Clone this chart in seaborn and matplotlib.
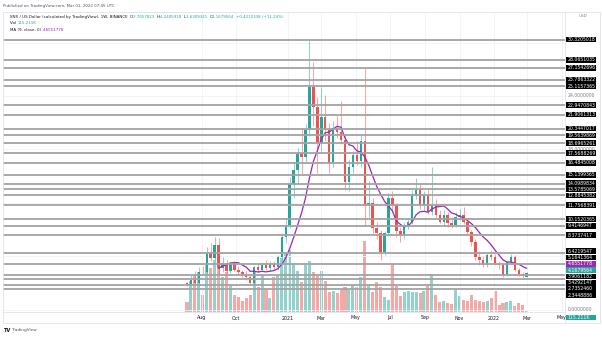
import numpy as np
import pandas as pd
import matplotlib
matplotlib.use("Agg")
import matplotlib.pyplot as plt
import matplotlib.dates as mdates
from matplotlib.patches import Rectangle
import seaborn as sns

W, H = 602, 337

# ---- weekly SNX/USD candles (Binance), starting week of 2020-07-06 ----
first_week = "2020-07-06"
opens = [2.98, 2.88, 3.40, 3.05, 4.25, 4.20, 6.40, 5.80, 7.25, 4.70,
         5.20, 4.40, 5.20, 4.45, 4.20, 4.00, 3.70, 3.05, 4.75, 4.45,
         5.05, 4.65, 5.15, 4.80, 5.95, 8.15, 9.50, 14.10, 15.70, 17.45,
         17.15, 20.15, 25.05, 22.80, 18.70, 21.60, 20.20, 16.50, 20.40, 20.00,
         19.05, 14.30, 16.00, 17.40, 16.70, 18.90, 11.80, 12.00, 9.15, 8.60,
         6.50, 8.60, 12.50, 11.80, 8.80, 8.40, 9.50, 9.90, 12.90, 13.50,
         11.76, 12.88, 11.00, 11.80, 10.64, 9.90, 10.60, 9.70, 9.55, 10.45,
         10.60, 9.89, 8.77, 7.64, 5.96, 5.59, 5.03, 6.15, 5.96, 5.19,
         5.03, 3.91, 5.40, 5.96, 4.47, 4.02, 3.7057823]
highs = [3.10, 3.85, 4.40, 4.85, 4.95, 7.10, 7.45, 8.15, 8.10, 5.90,
         5.60, 5.40, 5.50, 4.90, 4.50, 4.30, 3.90, 4.95, 5.30, 5.40,
         5.60, 5.50, 5.50, 6.20, 8.60, 10.20, 14.90, 16.60, 18.20, 20.30,
         20.90, 30.32, 27.80, 23.90, 25.00, 24.10, 21.00, 21.20, 21.80, 23.40,
         19.60, 16.80, 17.80, 19.00, 19.60, 27.15, 14.40, 12.60, 9.90, 9.00,
         8.90, 13.10, 13.30, 12.00, 9.30, 9.80, 10.30, 13.40, 14.80, 14.20,
         13.30, 13.60, 16.06, 12.40, 11.20, 11.20, 11.00, 10.40, 11.00, 11.30,
         11.50, 10.30, 9.00, 7.90, 6.60, 6.00, 6.40, 6.70, 6.30, 5.50,
         5.20, 5.50, 6.30, 6.10, 4.70, 4.20, 4.2405918]
lows = [2.70, 2.75, 2.95, 2.95, 3.95, 4.10, 5.50, 5.60, 3.90, 4.20,
        4.10, 4.10, 4.30, 4.00, 3.70, 3.40, 2.85, 2.90, 4.20, 4.30,
        4.50, 4.40, 4.60, 4.50, 5.60, 7.50, 9.20, 12.50, 14.10, 15.20,
        16.60, 19.50, 20.60, 15.30, 17.80, 19.00, 15.30, 16.00, 19.30, 18.60,
        13.50, 13.30, 15.40, 16.30, 16.00, 9.40, 10.40, 8.60, 8.00, 5.60,
        6.10, 8.30, 11.00, 8.20, 7.60, 8.00, 9.10, 9.60, 12.40, 11.30,
        11.10, 10.70, 10.60, 10.30, 9.70, 9.40, 9.30, 9.20, 9.30, 10.10,
        9.60, 8.40, 7.20, 5.60, 5.00, 4.80, 4.80, 5.60, 5.00, 4.60,
        3.70, 3.80, 5.20, 4.30, 3.80, 3.60, 3.6309341]
closes = [2.88, 3.40, 3.05, 4.25, 4.20, 6.40, 5.80, 7.25, 4.70, 5.20,
          4.40, 5.20, 4.45, 4.20, 4.00, 3.70, 3.05, 4.75, 4.45, 5.05,
          4.65, 5.15, 4.80, 5.95, 8.15, 9.50, 14.10, 15.70, 17.45, 17.15,
          20.15, 25.05, 22.80, 18.70, 21.60, 20.20, 16.50, 20.40, 20.00, 19.05,
          14.30, 16.00, 17.40, 16.70, 18.90, 11.80, 12.00, 9.15, 8.60, 6.50,
          8.60, 12.50, 11.80, 8.80, 8.40, 9.50, 9.90, 12.90, 13.50, 11.76,
          12.88, 11.00, 11.80, 10.64, 9.90, 10.60, 9.70, 9.55, 10.45, 10.60,
          9.89, 8.77, 7.64, 5.96, 5.59, 5.03, 6.15, 5.96, 5.1917212, 5.03,
          3.91, 5.40, 5.96, 4.47, 4.02, 3.7469226, 4.1679564]
# weekly volume, thousands of SNX
volumes = [800, 2500, 3000, 3200, 1350, 3800, 3600, 4200, 4000, 2800,
           3200, 2200, 1350, 1200, 900, 1100, 1350, 3200, 2000, 3000,
           1850, 1100, 2800, 3000, 4400, 4800, 5000, 4000, 3350, 2400,
           3800, 4150, 3200, 3000, 3350, 2550, 1600, 1700, 1500, 1800,
           2000, 1800, 2200, 2000, 2800, 5750, 2200, 1600, 2400, 2000,
           1200, 1000, 3900, 2100, 1300, 1600, 1700, 1600, 1600, 1500,
           1700, 2200, 3100, 1400, 800, 900, 750, 650, 1800, 1300,
           1000, 900, 1400, 1000, 900, 800, 900, 1150, 1700, 600,
           750, 800, 900, 500, 700, 600, 115.211]

ma_len = 9

# horizontal levels drawn on the chart
levels = [30.3205018, 28.0651035, 27.1542696, 25.7863322, 25.1157365,
          22.9470843, 21.9061313, 20.3447017, 19.5639869, 18.6965261,
          17.5688269, 16.4845008, 15.1399365, 14.0989834, 13.5785069,
          12.8845382, 11.7568391, 10.1520365, 9.4146947, 8.3737417,
          6.4219547, 5.1641364, 3.9061182, 3.4292147, 2.7352460, 2.3448886]

price_ticks = [0, 6, 12, 18, 24, 30]
shown_ticks = [0, 18, 24]
time_ticks = ["2020-08-01", "2020-10-01", "2021-01-01", "2021-03-01", "2021-05-01",
              "2021-07-01", "2021-09-01", "2021-11-01", "2022-01-01", "2022-03-01",
              "2022-05-01"]
time_labels = ["Aug", "Oct", "2021", "Mar", "May", "Jul", "Sep", "Nov", "2022", "Mar", "May"]

UP, DOWN = "#26a69a", "#ef5350"
MA_COL = "#9c27b0"
TXT = "#131722"

df = pd.DataFrame({"date": pd.date_range(first_week, periods=len(closes), freq="7D"),
                   "open": opens, "high": highs, "low": lows, "close": closes,
                   "volume": volumes})
df["x"] = mdates.date2num(df["date"])
df["ma"] = df["close"].rolling(ma_len).mean()
df["up"] = df["close"] >= df["open"]

sns.set_theme(style="white")
plt.rcParams["font.family"] = ["DejaVu Sans"]

fig = plt.figure(figsize=(W / 100, H / 100), dpi=100)
fig.patch.set_facecolor("white")

# pane geometry in pixels
PL, PR, PT, PB = 3, 565, 12, 312
rect = [PL / W, 1 - PB / H, (PR - PL) / W, (PB - PT) / H]

x0 = df["x"].iloc[0]
px_per_week = 3.95
first_px = 187
xlim = (x0 + 7 * (PL - first_px) / px_per_week, x0 + 7 * (PR - first_px) / px_per_week)
px_per_unit = 8.91
zero_px = 309.8
ylim = ((zero_px - PB) / px_per_unit, (zero_px - PT) / px_per_unit)

# volume pane underneath
axv = fig.add_axes(rect)
axv.set_xlim(*xlim)
vmax = df["volume"].max()
vtop = vmax * (PB - PT) / 71
axv.set_ylim(0, vtop)
axv.bar(df["x"], df["volume"], width=7 * 0.78,
        color=[UP if u else DOWN for u in df["up"]], alpha=0.5, linewidth=0)
axv.axis("off")

ax = fig.add_axes(rect, sharex=axv)
ax.patch.set_alpha(0)
ax.set_xlim(*xlim)
ax.set_ylim(*ylim)

# faint grid
for d in time_ticks:
    ax.axvline(mdates.date2num(pd.Timestamp(d)), color="#f0f3fa", lw=0.6, zorder=0)
for t in price_ticks:
    ax.axhline(t, color="#f0f3fa", lw=0.6, zorder=0)

# candles
cols = np.where(df["up"], UP, DOWN)
ax.vlines(df["x"], df["low"], df["high"], colors=cols, lw=0.75, alpha=0.5, zorder=2)
body_lo = np.minimum(df["open"], df["close"])
body_h = np.maximum(np.abs(df["close"] - df["open"]), 0.06)
ax.bar(df["x"], body_h, bottom=body_lo, width=7 * 0.62, color=cols, linewidth=0, zorder=3)

# moving average
sns.lineplot(data=df, x="x", y="ma", ax=ax, color=MA_COL, lw=0.9, zorder=4)

# horizontal levels
ax.hlines(levels, xlim[0], xlim[1], colors="#a3a3a3", lw=1.3, zorder=5)

ax.set_xlabel("")
ax.set_ylabel("")
ax.set_xticks([])
ax.set_yticks([])
for s in ax.spines.values():
    s.set_visible(False)

# ---- price-axis labels ----
def ypix(v):
    return zero_px - px_per_unit * v

def spread(ys, gap):
    order = np.argsort(ys)
    groups = []
    for k in order:
        groups.append([ys[k], [k]])
        while len(groups) > 1:
            a, b = groups[-2], groups[-1]
            if a[0] + len(a[1]) * gap > b[0]:
                members = a[1] + b[1]
                mean = np.mean([ys[m] for m in members])
                groups[-2:] = [[mean - (len(members) - 1) * gap / 2, members]]
            else:
                break
    out = np.empty(len(ys))
    for top, members in groups:
        for j, m in enumerate(members):
            out[m] = top + j * gap
    return out

ma_last = df["ma"].iloc[-1]
last_close = df["close"].iloc[-1]
last_vol = df["volume"].iloc[-1]
vol_px = PB - (PB - PT) * last_vol / vtop

tags = [(f"{v:.7f}", ypix(v), "black") for v in levels]
tags.append((f"{ma_last:.7f}", ypix(ma_last), MA_COL))
tags.append((f"{last_close:.7f}", ypix(last_close), UP))
tags.append((f"{last_vol:.3f}K", vol_px + 7, UP))

GAP = 6.3
pos = spread(np.array([t[1] for t in tags]), GAP)

FS_AX = 3.3
for t in shown_ticks:
    fig.text(567.5 / W, 1 - ypix(t) / H, f"{t:.7f}", color="#787b86", fontsize=FS_AX,
             va="center", ha="left", zorder=1)

for (label, _, col), yp in zip(tags, pos):
    fig.add_artist(Rectangle((566 / W, 1 - (yp + GAP / 2 - 0.3) / H), 29.5 / W, (GAP - 0.6) / H,
                             transform=fig.transFigure, facecolor=col, edgecolor="none", zorder=6))
    fig.text(567.5 / W, 1 - yp / H, label, color="white", fontsize=FS_AX,
             va="center", ha="left", zorder=7)

fig.text(583 / W, 1 - 16 / H, "USD", color="#787b86", fontsize=3.0, ha="center", va="center")

# time axis
for d, lab in zip(time_ticks, time_labels):
    xd = mdates.date2num(pd.Timestamp(d))
    xp = first_px + (xd - x0) / 7 * px_per_week
    if PL < xp < PR:
        fig.text(xp / W, 1 - 318 / H, lab, color=TXT, fontsize=3.4, ha="center", va="center")

# frame lines
frame = dict(transform=fig.transFigure, color="#e0e3eb", lw=0.6)
fig.add_artist(plt.Line2D([PL / W, 600 / W], [1 - PT / H, 1 - PT / H], **frame))
fig.add_artist(plt.Line2D([PL / W, 600 / W], [1 - 323 / H, 1 - 323 / H], **frame))
fig.add_artist(plt.Line2D([PL / W, PL / W], [1 - PT / H, 1 - 323 / H], **frame))
fig.add_artist(plt.Line2D([600 / W, 600 / W], [1 - PT / H, 1 - 323 / H], **frame))
fig.add_artist(plt.Line2D([PR / W, PR / W], [1 - PT / H, 1 - 323 / H], **frame))
fig.add_artist(plt.Line2D([PL / W, PR / W], [1 - PB / H, 1 - PB / H], **frame))

# header legend
renderer = fig.canvas.get_renderer()

def write_row(x_px, y_px, pieces, fs):
    x = x_px
    for txt, col in pieces:
        t = fig.text(x / W, 1 - y_px / H, txt, color=col, fontsize=fs, ha="left", va="center")
        x += t.get_window_extent(renderer).width

fig.text(3 / W, 1 - 6 / H, "Published on TradingView.com, Mar 01, 2022 07:45 UTC",
         color="#50535e", fontsize=2.85, ha="left", va="center")

HF = 2.85
chg = last_close - df["close"].iloc[-2]
pct = chg / df["close"].iloc[-2] * 100
write_row(10, 17, [("SNX / US Dollar (calculated by TradingView), 1W, BINANCE  ", TXT),
                   ("O", TXT), (f"{df['open'].iloc[-1]:.7f}  ", UP),
                   ("H", TXT), (f"{df['high'].iloc[-1]:.7f}  ", UP),
                   ("L", TXT), (f"{df['low'].iloc[-1]:.7f}  ", UP),
                   ("C", TXT), (f"{last_close:.7f}  ", UP),
                   (f"{chg:+.7f} ({pct:+.2f}%)", UP)], HF)
write_row(10, 23.5, [("Vol ", TXT), (f"{last_vol:.3f}K", UP)], HF)
write_row(10, 30, [("MA (9, close, 0) ", TXT), (f"{ma_last:.7f}", MA_COL)], HF)

# footer
fig.text(4 / W, 1 - 330 / H, "TV", color=TXT, fontsize=3.6, fontweight="bold", ha="left", va="center")
fig.text(12 / W, 1 - 330 / H, "TradingView", color="#50535e", fontsize=3.1, ha="left", va="center")

fig.savefig("out.png", dpi=100, facecolor="white")
